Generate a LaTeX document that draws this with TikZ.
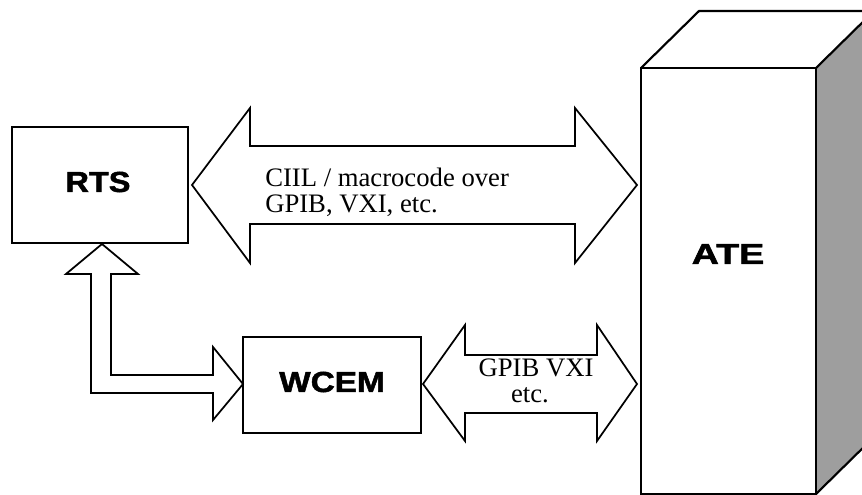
\documentclass[tikz,border=0pt]{standalone}
\usepackage{fontspec}
\usepackage{graphicx}
\setmainfont{Liberation Serif}
\newfontfamily\boxfont[FakeBold=1.6]{Liberation Sans Bold}
\begin{document}
\begin{tikzpicture}[x=0.75pt,y=-0.75pt,
  box/.style={draw, line width=1.6pt, fill=white, inner sep=0pt},
  blockarrow/.style={draw, line width=1.3pt, fill=white, line join=miter},
  lbl/.style={font=\boxfont\fontsize{21.75pt}{24pt}\selectfont, inner sep=0pt},
  txt/.style={font=\fontsize{20pt}{22pt}\selectfont, inner sep=0pt, anchor=base west},
  ctxt/.style={font=\fontsize{20pt}{22pt}\selectfont, inner sep=0pt, anchor=base},
  side/.style={fill=black!38}
]
\useasboundingbox (0,0) rectangle (862,495);

% ATE cabinet
\begin{scope}
  \clip (0,0) rectangle (862,495);
  \fill[side] (816,68) -- (874,11) -- (874,437) -- (816,494) -- cycle;
  \draw[line width=1.6pt, line join=miter] (641,68) -- (699,11) -- (874,11) -- (816,68);
  \draw[line width=1.6pt] (816,494) -- (874,437);
  \node[box, fill=none, minimum width=175*0.75pt, minimum height=426*0.75pt] (ate) at (728.5,281) {};
\end{scope}
\node[lbl] (atelbl) at (728,254) {\scalebox{1.3}[1]{ATE}};

% RTS box
\node[box, minimum width=176*0.75pt, minimum height=116*0.75pt] (rts) at (100,185) {};
\node[lbl] (rtslbl) at (98,182) {\scalebox{1.12}[1]{RTS}};

% WCEM box
\node[box, minimum width=178*0.75pt, minimum height=96*0.75pt] (wcem) at (332,385) {};
\node[lbl] (wcemlbl) at (332,382) {\scalebox{1.15}[1]{WCEM}};

% big double arrow RTS <-> ATE
\draw[blockarrow] (192,185) -- (250,108) -- (250,146) -- (575,146) -- (575,108)
  -- (637,185) -- (575,263) -- (575,224) -- (250,224) -- (250,263) -- cycle;
\node[txt] (t1) at (265,187) {CIIL / macrocode over};
\node[txt] (t2) at (265,212) {GPIB, VXI, etc.};

% small double arrow WCEM <-> ATE
\draw[blockarrow] (423,384) -- (465,325) -- (465,355) -- (597,355) -- (597,325)
  -- (637,384) -- (597,441) -- (597,413) -- (465,413) -- (465,441) -- cycle;
\node[ctxt] (t3) at (536,376) {GPIB VXI};
\node[ctxt] (t4) at (530,402) {etc.};

% L-shaped double arrow RTS <-> WCEM
\draw[blockarrow] (102,244) -- (138,274) -- (111,274) -- (111,375) -- (213,375)
  -- (213,347) -- (243,384) -- (213,420) -- (213,393) -- (91,393) -- (91,274)
  -- (66,274) -- cycle;
\end{tikzpicture}
\end{document}
